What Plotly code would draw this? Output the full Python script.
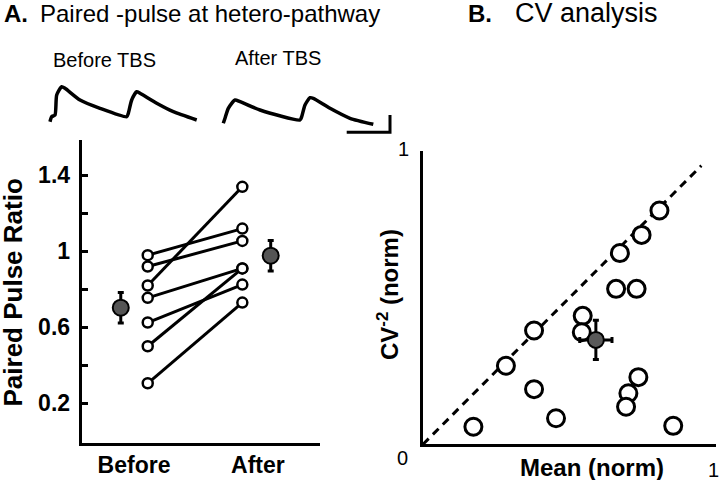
import plotly.graph_objects as go

W, H = 720, 480

# ---- Panel A data: paired-pulse ratio ----
ppr_before = [0.98, 0.92, 0.82, 0.755, 0.625, 0.50, 0.305]
ppr_after = [1.12, 1.055, 1.34, 0.91, 0.825, 0.91, 0.73]
cond_x = [1, 2]
cond_labels = ["Before", "After"]
mean_x = [0.715, 2.30]
mean_ppr = [0.703, 0.977]
sem_ppr = [0.08, 0.08]
ppr_major_ticks = [0.2, 0.6, 1.0, 1.4]
ppr_major_text = ["0.2", "0.6", "1", "1.4"]
ppr_minor_ticks = [0.4, 0.8, 1.2, 1.6]

# ---- Panel B data: CV analysis ----
cv_mean = [0.807, 0.746, 0.672, 0.659, 0.729, 0.545, 0.542, 0.379, 0.283,
           0.379, 0.454, 0.172, 0.735, 0.701, 0.693, 0.854]
cv_inv2 = [0.797, 0.714, 0.652, 0.530, 0.530, 0.438, 0.382, 0.388, 0.268,
           0.188, 0.089, 0.060, 0.229, 0.174, 0.128, 0.063]
cv_grand_mean = [0.590]
cv_grand_inv2 = [0.356]
cv_err_x = [0.055]
cv_err_y = [0.067]
diag_x = [0, 0.95]
diag_y = [0, 0.95]

# ---- Example traces (time in ms, amplitude in mV) ----
before_t = [0, 1.7, 5, 6.7, 11.7, 15, 30, 50, 76.7, 78.3, 81.7, 86.7, 90, 106.7, 123.3, 146.7]
before_v = [0.33, 0.83, 1.0, 3.0, 3.83, 3.67, 2.5, 1.67, 0.83, 1.17, 2.5, 3.33, 3.17, 2.17, 1.33, 0.5]
after_t = [173.3, 175, 178.3, 185, 190, 210, 250, 251.7, 255, 260, 263.3, 280, 300, 323.3]
after_v = [0.17, 0.67, 1.67, 2.5, 2.33, 1.5, 0.5, 0.83, 2.0, 2.73, 2.67, 1.67, 0.67, 0.07]
scalebar_t = [296.7, 340, 340]
scalebar_v = [-0.73, -0.73, 1.0]


def px(x):
    return x / W


def py(y):
    return 1 - y / H


FAM = "Liberation Sans, Arial, sans-serif"

fig = go.Figure()

# Panel A paired lines
for b, a in zip(ppr_before, ppr_after):
    fig.add_trace(go.Scatter(
        x=cond_x, y=[b, a], mode="lines+markers",
        line=dict(color="black", width=3),
        marker=dict(size=10, color="white", line=dict(color="black", width=2.5)),
        xaxis="x", yaxis="y", showlegend=False, cliponaxis=False, hoverinfo="skip"))

fig.add_trace(go.Scatter(
    x=mean_x, y=mean_ppr, mode="markers",
    error_y=dict(type="data", array=sem_ppr, color="black", thickness=3, width=3),
    marker=dict(size=16, color="#555555", line=dict(color="black", width=2)),
    xaxis="x", yaxis="y", showlegend=False, cliponaxis=False, hoverinfo="skip"))

# Panel B
fig.add_trace(go.Scatter(
    x=diag_x, y=diag_y, mode="lines",
    line=dict(color="black", width=3, dash="8px,6px"),
    xaxis="x2", yaxis="y2", showlegend=False, cliponaxis=False, hoverinfo="skip"))
fig.add_trace(go.Scatter(
    x=cv_mean, y=cv_inv2, mode="markers",
    marker=dict(size=17, color="white", line=dict(color="black", width=3)),
    xaxis="x2", yaxis="y2", showlegend=False, cliponaxis=False, hoverinfo="skip"))
fig.add_trace(go.Scatter(
    x=cv_grand_mean, y=cv_grand_inv2, mode="markers",
    error_x=dict(type="data", array=cv_err_x, color="black", thickness=3, width=3),
    error_y=dict(type="data", array=cv_err_y, color="black", thickness=3, width=3),
    marker=dict(size=16, color="#5a5a5a", line=dict(color="black", width=2)),
    xaxis="x2", yaxis="y2", showlegend=False, cliponaxis=False, hoverinfo="skip"))

# Example traces
for t, v in [(before_t, before_v), (after_t, after_v)]:
    fig.add_trace(go.Scatter(
        x=t, y=v, mode="lines", line=dict(color="black", width=3.5, shape="spline", smoothing=0.6),
        xaxis="x3", yaxis="y3", showlegend=False, cliponaxis=False, hoverinfo="skip"))
fig.add_trace(go.Scatter(
    x=scalebar_t, y=scalebar_v, mode="lines", line=dict(color="black", width=3),
    xaxis="x3", yaxis="y3", showlegend=False, cliponaxis=False, hoverinfo="skip"))

reg = dict(family=FAM, size=20, color="black")

fig.update_layout(
    width=W, height=H,
    margin=dict(l=0, r=0, t=0, b=0, pad=0, autoexpand=False),
    paper_bgcolor="white", plot_bgcolor="white",
    font=reg, hovermode=False,
    xaxis=dict(domain=[px(81.7), px(320)], range=[0.302, 2.821],
               showline=True, linewidth=3, linecolor="black",
               showgrid=False, zeroline=False, ticks="",
               tickmode="array", tickvals=[0.855, 2.164], ticktext=cond_labels,
               tickfont=dict(family=FAM, size=23, color="black", weight="bold"),
               anchor="y", automargin=False, fixedrange=True),
    yaxis=dict(domain=[py(442.7), py(136.7)], range=[-0.008, 1.604],
               showline=True, linewidth=3, linecolor="black",
               showgrid=False, zeroline=False,
               ticks="inside", ticklen=6, tickwidth=3, tickcolor="black",
               tickmode="array", tickvals=ppr_major_ticks, ticktext=ppr_major_text,
               tickfont=dict(family=FAM, size=23, color="black", weight="bold"),
               ticklabelstandoff=4,
               minor=dict(tickmode="array", tickvals=ppr_minor_ticks, ticks="inside",
                          ticklen=6, tickwidth=3, tickcolor="black", showgrid=False),
               anchor="x", automargin=False, fixedrange=True),
    xaxis2=dict(domain=[px(423), px(716)], range=[0, 1],
                showline=True, linewidth=3, linecolor="black",
                showgrid=False, zeroline=False,
                ticks="inside", ticklen=8, tickwidth=3, tickcolor="black",
                tickmode="array", tickvals=[1], showticklabels=False,
                anchor="y2", automargin=False, fixedrange=True),
    yaxis2=dict(domain=[py(444.3), py(151)], range=[0, 1],
                showline=True, linewidth=3, linecolor="black",
                showgrid=False, zeroline=False,
                ticks="inside", ticklen=8, tickwidth=3, tickcolor="black",
                tickmode="array", tickvals=[1], showticklabels=False,
                anchor="x2", automargin=False, fixedrange=True),
    xaxis3=dict(domain=[px(40), px(400)], range=[-10, 350], visible=False, anchor="y3",
                fixedrange=True),
    yaxis3=dict(domain=[py(140), py(80)], range=[-1.5, 4.5], visible=False, anchor="x3",
                fixedrange=True),
)

annots = [
    dict(text="<b>A.</b>", x=px(2), y=py(13), xanchor="left", font=dict(reg, size=24)),
    dict(text="Paired -pulse at hetero-pathway", x=px(38), y=py(13), xanchor="left",
         font=dict(reg, size=24)),
    dict(text="<b>B.</b>", x=px(466), y=py(13), xanchor="left", font=dict(reg, size=24)),
    dict(text="CV analysis", x=px(513), y=py(13), xanchor="left", font=dict(reg, size=27)),
    dict(text="Before TBS", x=px(104.7), y=py(59.5), xanchor="center", font=reg),
    dict(text="After TBS", x=px(277.5), y=py(58), xanchor="center", font=reg),
    dict(text="<b>Paired Pulse Ratio</b>", x=px(12.5), y=py(293), textangle=-90,
         xanchor="center", font=dict(reg, size=26)),
    dict(text="<b>CV<sup>-2</sup> (norm)</b>", x=px(388), y=py(295), textangle=-90,
         xanchor="center", font=dict(reg, size=24)),
    dict(text="<b>Mean (norm)</b>", x=px(592), y=py(467), xanchor="center",
         font=dict(reg, size=24)),
    dict(text="0", x=px(402), y=py(458), xanchor="center", font=reg),
    dict(text="1", x=px(713.5), y=py(470), xanchor="center", font=reg),
    dict(text="1", x=px(403), y=py(149), xanchor="center", font=reg),
]
for a in annots:
    a.update(xref="paper", yref="paper", yanchor="middle", showarrow=False)
fig.update_layout(annotations=annots)

fig.write_html("out.html", config={"displayModeBar": False, "staticPlot": True},
               post_script="document.body.style.margin='0px';document.body.style.overflow='hidden';")
